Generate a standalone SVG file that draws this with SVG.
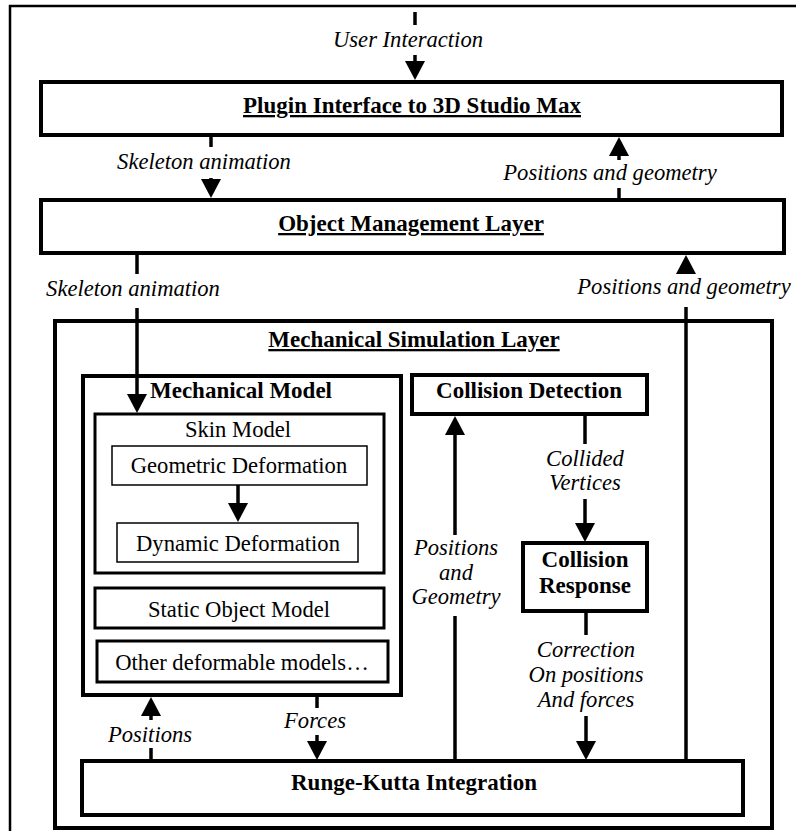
<svg xmlns="http://www.w3.org/2000/svg" width="796" height="831" viewBox="0 0 796 831">
<style>
  .box { fill: #fff; stroke: #000; stroke-width: 4; }
  .mid { fill: #fff; stroke: #000; stroke-width: 3; }
  .thin { fill: #fff; stroke: #000; stroke-width: 1.5; }
  .frame { fill: none; stroke: #000; stroke-width: 2.5; }
  .ln { fill: none; stroke: #000; stroke-width: 3.5; }
  text { fill: #000; text-anchor: middle; }
  .b { font-weight: bold; font-size: 23px; }
  .u { text-decoration: underline; }
  .r { font-size: 22.6px; }
  .i { font-style: italic; font-size: 22.6px; }
</style>
<defs>
  <marker id="ah" viewBox="0 0 19 20" refX="2" refY="10" markerWidth="19" markerHeight="20" markerUnits="userSpaceOnUse" orient="auto">
    <path d="M0,0 L19,10 L0,20 z" fill="#000"/>
  </marker>
</defs>

<g font-family="'Liberation Serif', 'Times New Roman', 'DejaVu Serif', serif">
<rect class="frame" x="10" y="6" width="800" height="840"/>

<g id="plugin">
  <rect class="box" x="41" y="82" width="741" height="53"/>
  <text class="b u" x="412" y="113">Plugin Interface to 3D Studio Max</text>
</g>
<g id="object-management">
  <rect class="box" x="41" y="200" width="743" height="53"/>
  <text class="b u" x="411" y="231">Object Management Layer</text>
</g>
<g id="mechanical-simulation">
  <rect class="box" x="55" y="321" width="717" height="507"/>
  <text class="b u" x="414" y="347">Mechanical Simulation Layer</text>
</g>
<g id="mechanical-model">
  <rect class="box" x="83" y="376" width="318" height="319"/>
  <text class="b" x="241" y="398">Mechanical Model</text>
</g>
<g id="skin-model">
  <rect class="mid" x="95" y="414" width="289" height="159"/>
  <text class="r" x="238" y="437">Skin Model</text>
</g>
<g id="geometric-deformation">
  <rect class="thin" x="112" y="446" width="255" height="39"/>
  <text class="r" x="239" y="473">Geometric Deformation</text>
</g>
<g id="dynamic-deformation">
  <rect class="thin" x="117" y="523" width="241" height="39"/>
  <text class="r" x="238" y="551">Dynamic Deformation</text>
</g>
<g id="static-object-model">
  <rect class="mid" x="95" y="588" width="289" height="40"/>
  <text class="r" x="239" y="617">Static Object Model</text>
</g>
<g id="other-models">
  <rect class="mid" x="97" y="641" width="291" height="41"/>
  <text class="r" x="242" y="670">Other deformable models…</text>
</g>
<g id="collision-detection">
  <rect class="box" x="412" y="375" width="235" height="39"/>
  <text class="b" x="529" y="398">Collision Detection</text>
</g>
<g id="collision-response">
  <rect class="box" x="523" y="543" width="124" height="68"/>
  <text class="b" x="585" y="567">Collision</text>
  <text class="b" x="585" y="593">Response</text>
</g>
<g id="runge-kutta">
  <rect class="box" x="82" y="761" width="661" height="54"/>
  <text class="b" x="414" y="790">Runge-Kutta Integration</text>
</g>

<g id="connectors">
  <line class="ln" x1="415" y1="12" x2="415" y2="25"/>
  <line class="ln" x1="415" y1="55" x2="415" y2="63" marker-end="url(#ah)"/>
  <text class="i" x="408" y="47">User Interaction</text>
  <line class="ln" x1="211" y1="135" x2="211" y2="147"/>
  <line class="ln" x1="211" y1="178" x2="211" y2="181" marker-end="url(#ah)"/>
  <text class="i" x="204" y="169">Skeleton animation</text>
  <line class="ln" x1="619" y1="199" x2="619" y2="188"/>
  <line class="ln" x1="619" y1="160" x2="619" y2="154" marker-end="url(#ah)"/>
  <text class="i" x="610" y="180">Positions and geometry</text>
  <line class="ln" x1="137" y1="253" x2="137" y2="274"/>
  <line class="ln" x1="137" y1="308" x2="137" y2="396" marker-end="url(#ah)"/>
  <text class="i" x="133" y="296">Skeleton animation</text>
  <line class="ln" x1="686" y1="761" x2="686" y2="307"/>
  <line class="ln" x1="686" y1="274" x2="686" y2="272" marker-end="url(#ah)"/>
  <text class="i" x="684" y="294">Positions and geometry</text>
  <line class="ln" x1="238" y1="485" x2="238" y2="505" marker-end="url(#ah)"/>
  <line class="ln" x1="455" y1="761" x2="455" y2="616"/>
  <line class="ln" x1="455" y1="535" x2="455" y2="433" marker-end="url(#ah)"/>
  <text class="i" x="456" y="555">Positions</text>
  <text class="i" x="456" y="580">and</text>
  <text class="i" x="456" y="604">Geometry</text>
  <line class="ln" x1="585" y1="415" x2="585" y2="444"/>
  <line class="ln" x1="585" y1="499" x2="585" y2="525" marker-end="url(#ah)"/>
  <text class="i" x="585" y="466">Collided</text>
  <text class="i" x="585" y="490">Vertices</text>
  <line class="ln" x1="586" y1="611" x2="586" y2="635"/>
  <line class="ln" x1="586" y1="716" x2="586" y2="743" marker-end="url(#ah)"/>
  <text class="i" x="586" y="657">Correction</text>
  <text class="i" x="586" y="682">On positions</text>
  <text class="i" x="586" y="707">And forces</text>
  <line class="ln" x1="151" y1="761" x2="151" y2="748"/>
  <line class="ln" x1="151" y1="720" x2="151" y2="714" marker-end="url(#ah)"/>
  <text class="i" x="150" y="742">Positions</text>
  <line class="ln" x1="317" y1="695" x2="317" y2="708"/>
  <line class="ln" x1="317" y1="735" x2="317" y2="743" marker-end="url(#ah)"/>
  <text class="i" x="315" y="728">Forces</text>
</g>
</g>
</svg>
